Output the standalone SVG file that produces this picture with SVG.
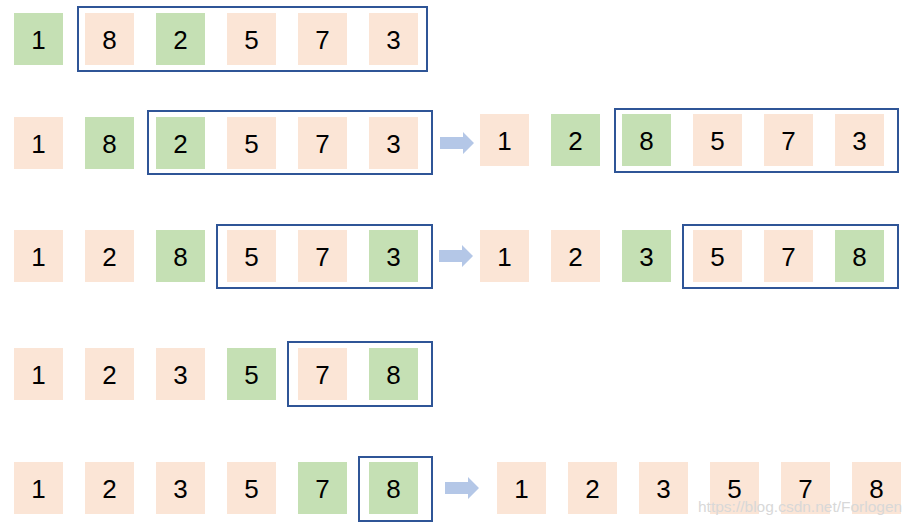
<svg xmlns="http://www.w3.org/2000/svg" width="915" height="531" viewBox="0 0 915 531">
<style>
.p{fill:#FBE5D6}
.g{fill:#C5E0B4}
.f{fill:none;stroke:#2F5597;stroke-width:2}
.a{fill:#B4C7E7}
text{font-family:"Liberation Sans",Arial,sans-serif;font-size:26px;fill:#000;text-anchor:middle}
.w{font-size:15.5px;fill:#d8d8d8;text-anchor:start}
</style>
<defs>
<g id="arrow"><polygon class="a" points="0,-6 23,-6 23,-11 34,0 23,11 23,6 0,6"/></g>
</defs>
<g id="connectors">
<use href="#arrow" x="440" y="143"/>
<use href="#arrow" x="439" y="256"/>
<use href="#arrow" x="445" y="488"/>
</g>
<!-- Row 1 -->
<g id="r1">
<g id="r1n1"><rect class="g" x="14" y="13" width="49" height="52"/><text x="38.5" y="49">1</text></g>
<rect id="r1frame" class="f" x="78" y="7" width="349" height="64"/>
<g id="r1n2"><rect class="p" x="85" y="13" width="49" height="52"/><text x="109.5" y="49">8</text></g>
<g id="r1n3"><rect class="g" x="156" y="13" width="49" height="52"/><text x="180.5" y="49">2</text></g>
<g id="r1n4"><rect class="p" x="227" y="13" width="49" height="52"/><text x="251.5" y="49">5</text></g>
<g id="r1n5"><rect class="p" x="298" y="13" width="49" height="52"/><text x="322.5" y="49">7</text></g>
<g id="r1n6"><rect class="p" x="369" y="13" width="49" height="52"/><text x="393.5" y="49">3</text></g>
</g>
<!-- Row 2 left -->
<g id="r2">
<rect id="r2frame" class="f" x="148" y="111" width="284" height="63"/>
<g id="r2n1"><rect class="p" x="14" y="117" width="49" height="52"/><text x="38.5" y="153">1</text></g>
<g id="r2n2"><rect class="g" x="85" y="117" width="49" height="52"/><text x="109.5" y="153">8</text></g>
<g id="r2n3"><rect class="g" x="156" y="117" width="49" height="52"/><text x="180.5" y="153">2</text></g>
<g id="r2n4"><rect class="p" x="227" y="117" width="49" height="52"/><text x="251.5" y="153">5</text></g>
<g id="r2n5"><rect class="p" x="298" y="117" width="49" height="52"/><text x="322.5" y="153">7</text></g>
<g id="r2n6"><rect class="p" x="369" y="117" width="49" height="52"/><text x="393.5" y="153">3</text></g>
</g>
<!-- Row 2 right -->
<g id="r2b">
<rect id="r2bframe" class="f" x="615" y="109" width="283" height="63"/>
<g id="r2bn1"><rect class="p" x="480" y="114" width="49" height="52"/><text x="504.5" y="150">1</text></g>
<g id="r2bn2"><rect class="g" x="551" y="114" width="49" height="52"/><text x="575.5" y="150">2</text></g>
<g id="r2bn3"><rect class="g" x="622" y="114" width="49" height="52"/><text x="646.5" y="150">8</text></g>
<g id="r2bn4"><rect class="p" x="693" y="114" width="49" height="52"/><text x="717.5" y="150">5</text></g>
<g id="r2bn5"><rect class="p" x="764" y="114" width="49" height="52"/><text x="788.5" y="150">7</text></g>
<g id="r2bn6"><rect class="p" x="835" y="114" width="49" height="52"/><text x="859.5" y="150">3</text></g>
</g>
<!-- Row 3 left -->
<g id="r3">
<rect id="r3frame" class="f" x="217" y="225" width="215" height="63"/>
<g id="r3n1"><rect class="p" x="14" y="230" width="49" height="52"/><text x="38.5" y="266">1</text></g>
<g id="r3n2"><rect class="p" x="85" y="230" width="49" height="52"/><text x="109.5" y="266">2</text></g>
<g id="r3n3"><rect class="g" x="156" y="230" width="49" height="52"/><text x="180.5" y="266">8</text></g>
<g id="r3n4"><rect class="p" x="227" y="230" width="49" height="52"/><text x="251.5" y="266">5</text></g>
<g id="r3n5"><rect class="p" x="298" y="230" width="49" height="52"/><text x="322.5" y="266">7</text></g>
<g id="r3n6"><rect class="g" x="369" y="230" width="49" height="52"/><text x="393.5" y="266">3</text></g>
</g>
<!-- Row 3 right -->
<g id="r3b">
<rect id="r3bframe" class="f" x="683" y="225" width="215" height="63"/>
<g id="r3bn1"><rect class="p" x="480" y="230" width="49" height="52"/><text x="504.5" y="266">1</text></g>
<g id="r3bn2"><rect class="p" x="551" y="230" width="49" height="52"/><text x="575.5" y="266">2</text></g>
<g id="r3bn3"><rect class="g" x="622" y="230" width="49" height="52"/><text x="646.5" y="266">3</text></g>
<g id="r3bn4"><rect class="p" x="693" y="230" width="49" height="52"/><text x="717.5" y="266">5</text></g>
<g id="r3bn5"><rect class="p" x="764" y="230" width="49" height="52"/><text x="788.5" y="266">7</text></g>
<g id="r3bn6"><rect class="g" x="835" y="230" width="49" height="52"/><text x="859.5" y="266">8</text></g>
</g>
<!-- Row 4 -->
<g id="r4">
<rect id="r4frame" class="f" x="288" y="342" width="144" height="64"/>
<g id="r4n1"><rect class="p" x="14" y="348" width="49" height="52"/><text x="38.5" y="384">1</text></g>
<g id="r4n2"><rect class="p" x="85" y="348" width="49" height="52"/><text x="109.5" y="384">2</text></g>
<g id="r4n3"><rect class="p" x="156" y="348" width="49" height="52"/><text x="180.5" y="384">3</text></g>
<g id="r4n4"><rect class="g" x="227" y="348" width="49" height="52"/><text x="251.5" y="384">5</text></g>
<g id="r4n5"><rect class="p" x="298" y="348" width="49" height="52"/><text x="322.5" y="384">7</text></g>
<g id="r4n6"><rect class="g" x="369" y="348" width="49" height="52"/><text x="393.5" y="384">8</text></g>
</g>
<!-- Row 5 left -->
<g id="r5">
<rect id="r5frame" class="f" x="359" y="457" width="73" height="64"/>
<g id="r5n1"><rect class="p" x="14" y="462" width="49" height="52"/><text x="38.5" y="498">1</text></g>
<g id="r5n2"><rect class="p" x="85" y="462" width="49" height="52"/><text x="109.5" y="498">2</text></g>
<g id="r5n3"><rect class="p" x="156" y="462" width="49" height="52"/><text x="180.5" y="498">3</text></g>
<g id="r5n4"><rect class="p" x="227" y="462" width="49" height="52"/><text x="251.5" y="498">5</text></g>
<g id="r5n5"><rect class="g" x="298" y="462" width="49" height="52"/><text x="322.5" y="498">7</text></g>
<g id="r5n6"><rect class="g" x="369" y="462" width="49" height="52"/><text x="393.5" y="498">8</text></g>
</g>
<!-- Row 5 right -->
<g id="r5b">
<g id="r5bn1"><rect class="p" x="497" y="462" width="49" height="52"/><text x="521.5" y="498">1</text></g>
<g id="r5bn2"><rect class="p" x="568" y="462" width="49" height="52"/><text x="592.5" y="498">2</text></g>
<g id="r5bn3"><rect class="p" x="639" y="462" width="49" height="52"/><text x="663.5" y="498">3</text></g>
<g id="r5bn4"><rect class="p" x="710" y="462" width="49" height="52"/><text x="734.5" y="498">5</text></g>
<g id="r5bn5"><rect class="p" x="781" y="462" width="49" height="52"/><text x="805.5" y="498">7</text></g>
<g id="r5bn6"><rect class="p" x="852" y="462" width="49" height="52"/><text x="876.5" y="498">8</text></g>
</g>
<text class="w" x="698" y="512">https://blog.csdn.net/Forlogen</text>
</svg>
